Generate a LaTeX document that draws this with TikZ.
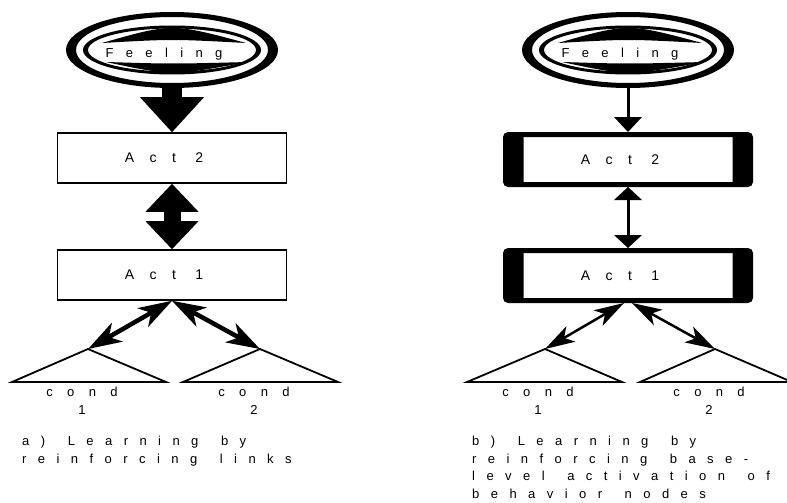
\documentclass[tikz,border=0pt]{standalone}
\usepackage{fontspec}
\setmainfont{Liberation Sans}
\newfontfamily\actfont[LetterSpace=110]{Liberation Sans}
\newfontfamily\feelfont[LetterSpace=95]{Liberation Sans}
\newfontfamily\condfont[LetterSpace=110]{Liberation Sans}
\newfontfamily\capfont[LetterSpace=88,WordSpace=1.5]{Liberation Sans}
\usetikzlibrary{arrows.meta,shapes.geometric}

\tikzset{
  feelnode/.style={ellipse, minimum width=212pt, minimum height=76pt, inner sep=0pt,
    text height=18pt, text depth=2.7pt, font=\feelfont\fontsize{13}{15}\selectfont},
  actbox/.style={draw, line width=1.6pt, minimum width=229pt, minimum height=50pt,
    inner sep=0pt, font=\actfont\fontsize{14}{16}\selectfont},
  heavybox/.style={draw, line width=5pt, rounded corners=3pt, minimum width=245pt,
    minimum height=50pt, inner sep=0pt, font=\actfont\fontsize{14}{16}\selectfont,
    path picture={
      \fill (path picture bounding box.south west) rectangle ([xshift=18pt]path picture bounding box.north west);
      \fill (path picture bounding box.south east) rectangle ([xshift=-18pt]path picture bounding box.north east);
    }},
  condlabel/.style={anchor=north, align=center, inner sep=0pt,
    font=\condfont\fontsize{13}{18}\selectfont},
  caption/.style={anchor=north west, align=left, inner sep=0pt,
    font=\capfont\fontsize{13}{17.5}\selectfont},
  tri/.style={line width=1.8pt},
  fat/.style={-{Triangle[width=64pt,length=35pt,line width=0pt]}, line width=20pt},
  fatboth/.style={{Triangle[width=53pt,length=28pt,line width=0pt]}-{Triangle[width=53pt,length=28pt,line width=0pt]}, line width=17pt},
  barbboth/.style={{Stealth[length=34pt,width=22pt,inset=10pt,line width=0pt]}-{Stealth[length=34pt,width=22pt,inset=10pt,line width=0pt]}, line width=4.5pt},
  thin/.style={-{Triangle[width=28pt,length=15pt,line width=0pt]}, line width=3pt},
  thinboth/.style={{Triangle[width=28pt,length=13pt,line width=0pt]}-{Triangle[width=28pt,length=13pt,line width=0pt]}, line width=3pt},
  thinbarb/.style={{Stealth[length=30pt,width=18pt,inset=8pt,line width=0pt]}-{Stealth[length=30pt,width=18pt,inset=8pt,line width=0pt]}, line width=2.5pt}
}

% rings and crescents round a feeling node
\newcommand{\feelrings}[1]{%
  \begin{scope}[shift={(#1.center)}]
    \fill[even odd rule] (0,0) ellipse [x radius=106, y radius=38]
      (0,0) ellipse [x radius=96, y radius=33];
    \fill[even odd rule] (0,0) ellipse [x radius=89, y radius=24.5]
      (0,0) ellipse [x radius=84, y radius=21.5];
    \fill (-70,-7) .. controls (0,-27) .. (74,-7) .. controls (0,-11) .. (-70,-7);
    \fill (-66,12) .. controls (0,26) .. (76,12) .. controls (0,14) .. (-66,12);
  \end{scope}}

\begin{document}
\begin{tikzpicture}[x=1pt, y=-1pt]
  \useasboundingbox (0,0) rectangle (787,503);

  % a) reinforcing links
  \node[feelnode] (feelA) at (172,50) {Feeling\hspace*{16pt}};
  \feelrings{feelA}
  \node[actbox] (act2A) at (172,158) {Act 2\hspace*{16pt}};
  \node[actbox] (act1A) at (172,275) {Act 1\hspace*{16pt}};
  \coordinate (c1A) at (88,349);
  \coordinate (c2A) at (260,349);
  \draw[tri] (12,382) -- (c1A) -- (166,382) -- cycle;
  \draw[tri] (183,382) -- (c2A) -- (338,382) -- cycle;
  \node[condlabel] (cond1A) at (82,387) {cond\\1};
  \node[condlabel] (cond2A) at (254,387) {cond\\2};
  \draw[fat] (feelA) -- (act2A.north);
  \draw[fatboth] (act2A.south) -- (act1A.north);
  \draw[barbboth] (act1A.south) -- (c1A);
  \draw[barbboth] (act1A.south) -- (c2A);
  \node[caption] (capA) at (22,436) {a) Learning by\\reinforcing links};

  % b) reinforcing base-level activation
  \node[feelnode] (feelB) at (628,50) {Feeling\hspace*{16pt}};
  \feelrings{feelB}
  \node[heavybox] (act2B) at (628,159.5) {Act 2\hspace*{16pt}};
  \node[heavybox] (act1B) at (628,275.5) {Act 1\hspace*{16pt}};
  \coordinate (c1B) at (545,349);
  \coordinate (c2B) at (715,349);
  \draw[tri] (467,382) -- (c1B) -- (622,382) -- cycle;
  \draw[tri] (640,382) -- (c2B) -- (792,382) -- cycle;
  \node[condlabel] (cond1B) at (538,387) {cond\\1};
  \node[condlabel] (cond2B) at (709,387) {cond\\2};
  \draw[thin] (feelB) -- (act2B.north);
  \draw[thinboth] (act2B.south) -- (act1B.north);
  \draw[thinbarb] ([xshift=-4pt]act1B.south) -- (c1B);
  \draw[thinbarb] ([xshift=4pt]act1B.south) -- (c2B);
  \node[caption] (capB) at (472,436) {b) Learning by\\reinforcing base-\\level activation of\\behavior nodes};
\end{tikzpicture}
\end{document}
